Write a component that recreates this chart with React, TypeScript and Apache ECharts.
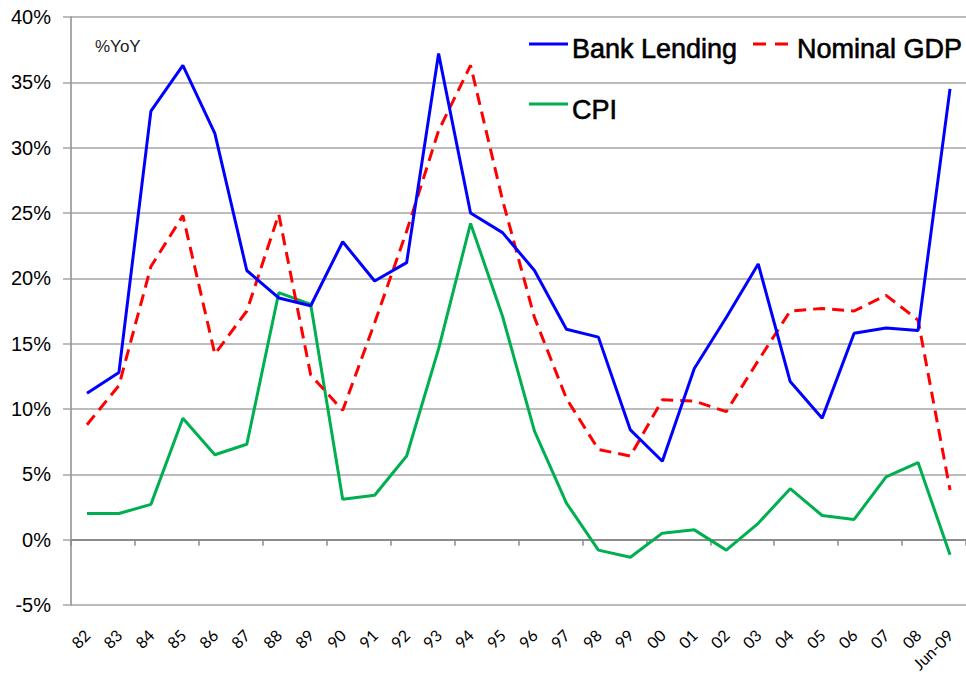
import React, { useEffect, useRef } from "react";
import * as echarts from "echarts";

const categories = ["82","83","84","85","86","87","88","89","90","91","92","93","94","95","96","97","98","99","00","01","02","03","04","05","06","07","08","Jun-09"];
const bankLending = [11.2, 12.8, 32.8, 36.3, 31.1, 20.6, 18.5, 17.9, 22.8, 19.8, 21.2, 37.2, 25.0, 23.5, 20.6, 16.1, 15.5, 8.4, 6.0, 13.1, 17.0, 21.1, 12.1, 9.3, 15.8, 16.2, 16.0, 34.5];
const nominalGDP = [8.8, 11.8, 20.9, 24.8, 14.2, 17.5, 24.9, 12.6, 9.9, 16.6, 23.6, 31.3, 36.3, 26.0, 17.0, 10.8, 6.9, 6.4, 10.7, 10.6, 9.8, 13.7, 17.5, 17.7, 17.5, 18.7, 16.8, 3.8];
const cpi = [2.0, 2.0, 2.7, 9.3, 6.5, 7.3, 18.9, 18.0, 3.1, 3.4, 6.4, 14.6, 24.2, 17.1, 8.3, 2.8, -0.8, -1.35, 0.5, 0.75, -0.8, 1.25, 3.9, 1.85, 1.55, 4.8, 5.9, -1.15];
const seriesNames = ["Bank Lending", "Nominal GDP", "CPI"];
const seriesColors = ["#0000ff", "#ff0000", "#00b050"];
const yMin = -5;
const yMax = 40;
const yStep = 5;

export default function App() {
  const ref = useRef<HTMLDivElement>(null);
  useEffect(() => {
    if (!ref.current) return;
    const chart = echarts.init(ref.current, null, { renderer: "svg" });
    const legendFont = {
      fontFamily: "Liberation Sans, Arial, sans-serif",
      fontSize: 27,
      fill: "#000",
      stroke: "#000",
      lineWidth: 0.6,
      textVerticalAlign: "middle",
      verticalAlign: "middle",
    };
    chart.setOption({
      animation: false,
      backgroundColor: "#fff",
      title: {
        text: "%YoY",
        left: 90,
        top: 33,
        textStyle: { fontFamily: "Liberation Sans, Arial, sans-serif", fontSize: 17, fontWeight: "normal", color: "#222" },
      },
      legend: { show: false, data: seriesNames },
      graphic: [
        { type: "line", shape: { x1: 529, y1: 44, x2: 568, y2: 44 }, style: { stroke: seriesColors[0], lineWidth: 3 }, z: 10 },
        { type: "text", x: 572, y: 49, style: { text: seriesNames[0], ...legendFont }, z: 10 },
        { type: "line", shape: { x1: 753, y1: 44, x2: 789, y2: 44 }, style: { stroke: seriesColors[1], lineWidth: 3, lineDash: [13, 9] }, z: 10 },
        { type: "text", x: 797, y: 49, style: { text: seriesNames[1], ...legendFont }, z: 10 },
        { type: "line", shape: { x1: 529, y1: 104, x2: 568, y2: 104 }, style: { stroke: seriesColors[2], lineWidth: 3 }, z: 10 },
        { type: "text", x: 572, y: 110, style: { text: seriesNames[2], ...legendFont }, z: 10 },
      ],
      grid: { left: 71, top: 17, right: -5, bottom: 72, containLabel: false },
      xAxis: [
        {
          type: "category",
          data: categories,
          boundaryGap: true,
          position: "bottom",
          axisLine: { show: false, onZero: false },
          axisTick: { show: false },
          axisLabel: {
            rotate: 45,
            margin: 27,
            interval: 0,
            fontFamily: "Lato, sans-serif",
            fontSize: 16,
            color: "#000",
          },
        },
        {
          type: "category",
          data: categories,
          boundaryGap: true,
          position: "bottom",
          axisLine: { show: true, onZero: true, lineStyle: { color: "#8c8c8c", width: 2 } },
          axisTick: { show: true, length: 6, lineStyle: { color: "#8c8c8c", width: 1.5 } },
          axisLabel: { show: false },
        },
      ],
      yAxis: {
        type: "value",
        min: yMin,
        max: yMax,
        interval: yStep,
        axisLine: { show: true, lineStyle: { color: "#8c8c8c", width: 1.5 } },
        axisTick: { show: true, length: 8, lineStyle: { color: "#a6a6a6", width: 1.5 } },
        splitLine: { show: true, lineStyle: { color: "#a6a6a6", width: 1.5 } },
        axisLabel: {
          formatter: (v: number) => `${v}%`,
          margin: 20,
          fontFamily: "Liberation Sans, Arial, sans-serif",
          fontSize: 20,
          color: "#000",
        },
      },
      series: [
        {
          name: seriesNames[0],
          type: "line",
          data: bankLending,
          symbol: "none",
          color: seriesColors[0],
          lineStyle: { color: seriesColors[0], width: 3 },
          z: 3,
        },
        {
          name: seriesNames[1],
          type: "line",
          data: nominalGDP,
          symbol: "none",
          color: seriesColors[1],
          lineStyle: { color: seriesColors[1], width: 3, type: [12, 7] },
          z: 2,
        },
        {
          name: seriesNames[2],
          type: "line",
          data: cpi,
          symbol: "none",
          color: seriesColors[2],
          lineStyle: { color: seriesColors[2], width: 3 },
          z: 1,
        },
      ],
    });
    return () => chart.dispose();
  }, []);
  return (
    <div
      ref={ref}
      style={{ position: "fixed", left: 0, top: 0, width: 966, height: 677, background: "#fff" }}
    />
  );
}
